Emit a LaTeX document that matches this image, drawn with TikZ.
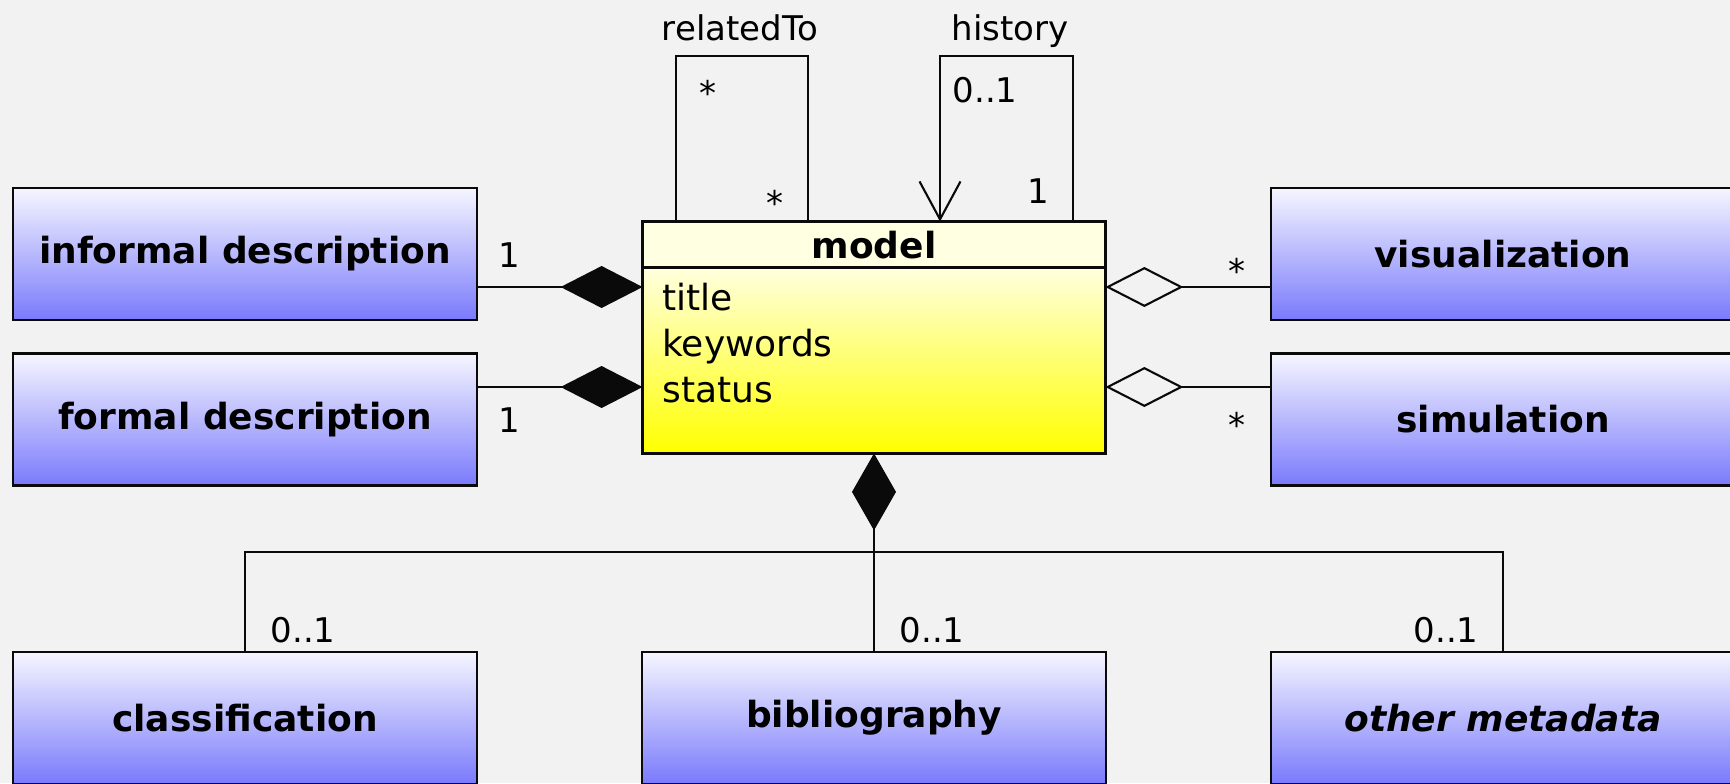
\documentclass[tikz,border=0pt]{standalone}
\usepackage{fontspec}
\setmainfont{DejaVu Sans}
\usetikzlibrary{arrows.meta}
\definecolor{bg}{RGB}{242,242,242}
\definecolor{ink}{RGB}{10,10,10}
\definecolor{boxtop}{RGB}{246,246,255}
\definecolor{boxbot}{RGB}{122,122,252}
\definecolor{hdr}{RGB}{255,255,225}
\definecolor{bodytop}{RGB}{255,255,222}
\definecolor{bodybot}{RGB}{255,255,0}
\begin{document}
\begin{tikzpicture}[x=0.5pt,y=-0.5pt,
  cls/.style={draw=ink, line width=1.45pt, top color=boxtop, bottom color=boxbot,
    minimum width=232pt, minimum height=66pt, inner sep=0pt,
    font=\fontsize{18}{22}\selectfont\bfseries},
  lbl/.style={inner sep=0pt, anchor=base, font=\fontsize{17}{20}\selectfont},
  attr/.style={inner sep=0pt, anchor=base west, font=\fontsize{18}{22}\selectfont},
  conn/.style={draw=ink, line width=1.05pt},
  comp/.style={conn, -{Diamond[length=41pt,width=21pt,fill=ink]}},
  compv/.style={conn, -{Diamond[length=38.5pt,width=22pt,fill=ink]}},
  aggr/.style={conn, -{Diamond[open,length=39pt,width=20pt]}},
  nav/.style={conn, -{Straight Barb[length=19pt,width=20.5pt]}},
]
\path[use as bounding box] (0,0) rectangle (1730,783);
\clip (0,0) rectangle (1730,783);
\fill[bg] (0,0) rectangle (1730,783);

% classes
\node[cls] (informal) at (245,254) {informal description};
\node[cls] (formal) at (245,419.5) {formal description};
\node[cls] (visual) at (1503,254) {visualization};
\node[cls] (simul) at (1503,419.5) {simulation};
\node[cls] (class) at (245,718) {classification};
\node[cls] (biblio) at (874,718) {bibliography};
\node[cls] (other) at (1503,718) {\itshape other metadata};

% model class
\node[minimum width=231pt, minimum height=115.5pt, inner sep=0pt] (model) at (874,337.5) {};
\fill[hdr] (model.north west) rectangle ([yshift=-23pt]model.north east);
\shade[top color=bodytop, bottom color=bodybot] ([yshift=-23pt]model.north west) rectangle (model.south east);
\draw[ink, line width=1.45pt] (model.north west) rectangle (model.south east);
\draw[ink, line width=1.5pt] ([yshift=-23pt]model.north west) -- ([yshift=-23pt]model.north east);
\node[inner sep=0pt, anchor=base, font=\fontsize{18}{22}\selectfont\bfseries] (mname) at (874,258) {model};
\node[attr] (atitle) at (662,310) {title};
\node[attr] (akey) at (662,356) {keywords};
\node[attr] (astatus) at (662,402) {status};

% self associations
\draw[conn] ([xshift=-99pt]model.north) -- ++(0,-166) -| ([xshift=-33pt]model.north);
\draw[nav] ([xshift=99.5pt]model.north) -- ++(0,-166) -| ([xshift=33pt]model.north);
\node[lbl] (relto) at (740,40) {relatedTo};
\node[lbl] (hist) at (1010,40) {history};
\node[lbl] (m1) at (708,105) {*};
\node[lbl] (m2) at (775,215) {*};
\node[lbl] (m3) at (985,102.5) {0..1};
\node[lbl] (m4) at (1038,203) {1};

% compositions left
\draw[comp] ([yshift=-16.5pt]informal.east) -- ([yshift=25.25pt]model.west);
\draw[comp] ([yshift=16.25pt]formal.east) -- ([yshift=-24.75pt]model.west);
\node[lbl] (m5) at (509,267.5) {1};
\node[lbl] (m6) at (509,432.5) {1};

% aggregations right
\draw[aggr] ([yshift=-16.5pt]visual.west) -- ([yshift=25.25pt]model.east);
\draw[aggr] ([yshift=16.25pt]simul.west) -- ([yshift=-24.75pt]model.east);
\node[lbl] (m7) at (1237,283) {*};
\node[lbl] (m8) at (1237,437) {*};

% bottom composition tree
\draw[compv] (biblio.north) -- (model.south);
\draw[conn] (class.north) -- ++(0,-99) -| (other.north);
\node[lbl] (m9) at (303,642.5) {0..1};
\node[lbl] (m10) at (932,642.5) {0..1};
\node[lbl] (m11) at (1446,642.5) {0..1};
\end{tikzpicture}
\end{document}
